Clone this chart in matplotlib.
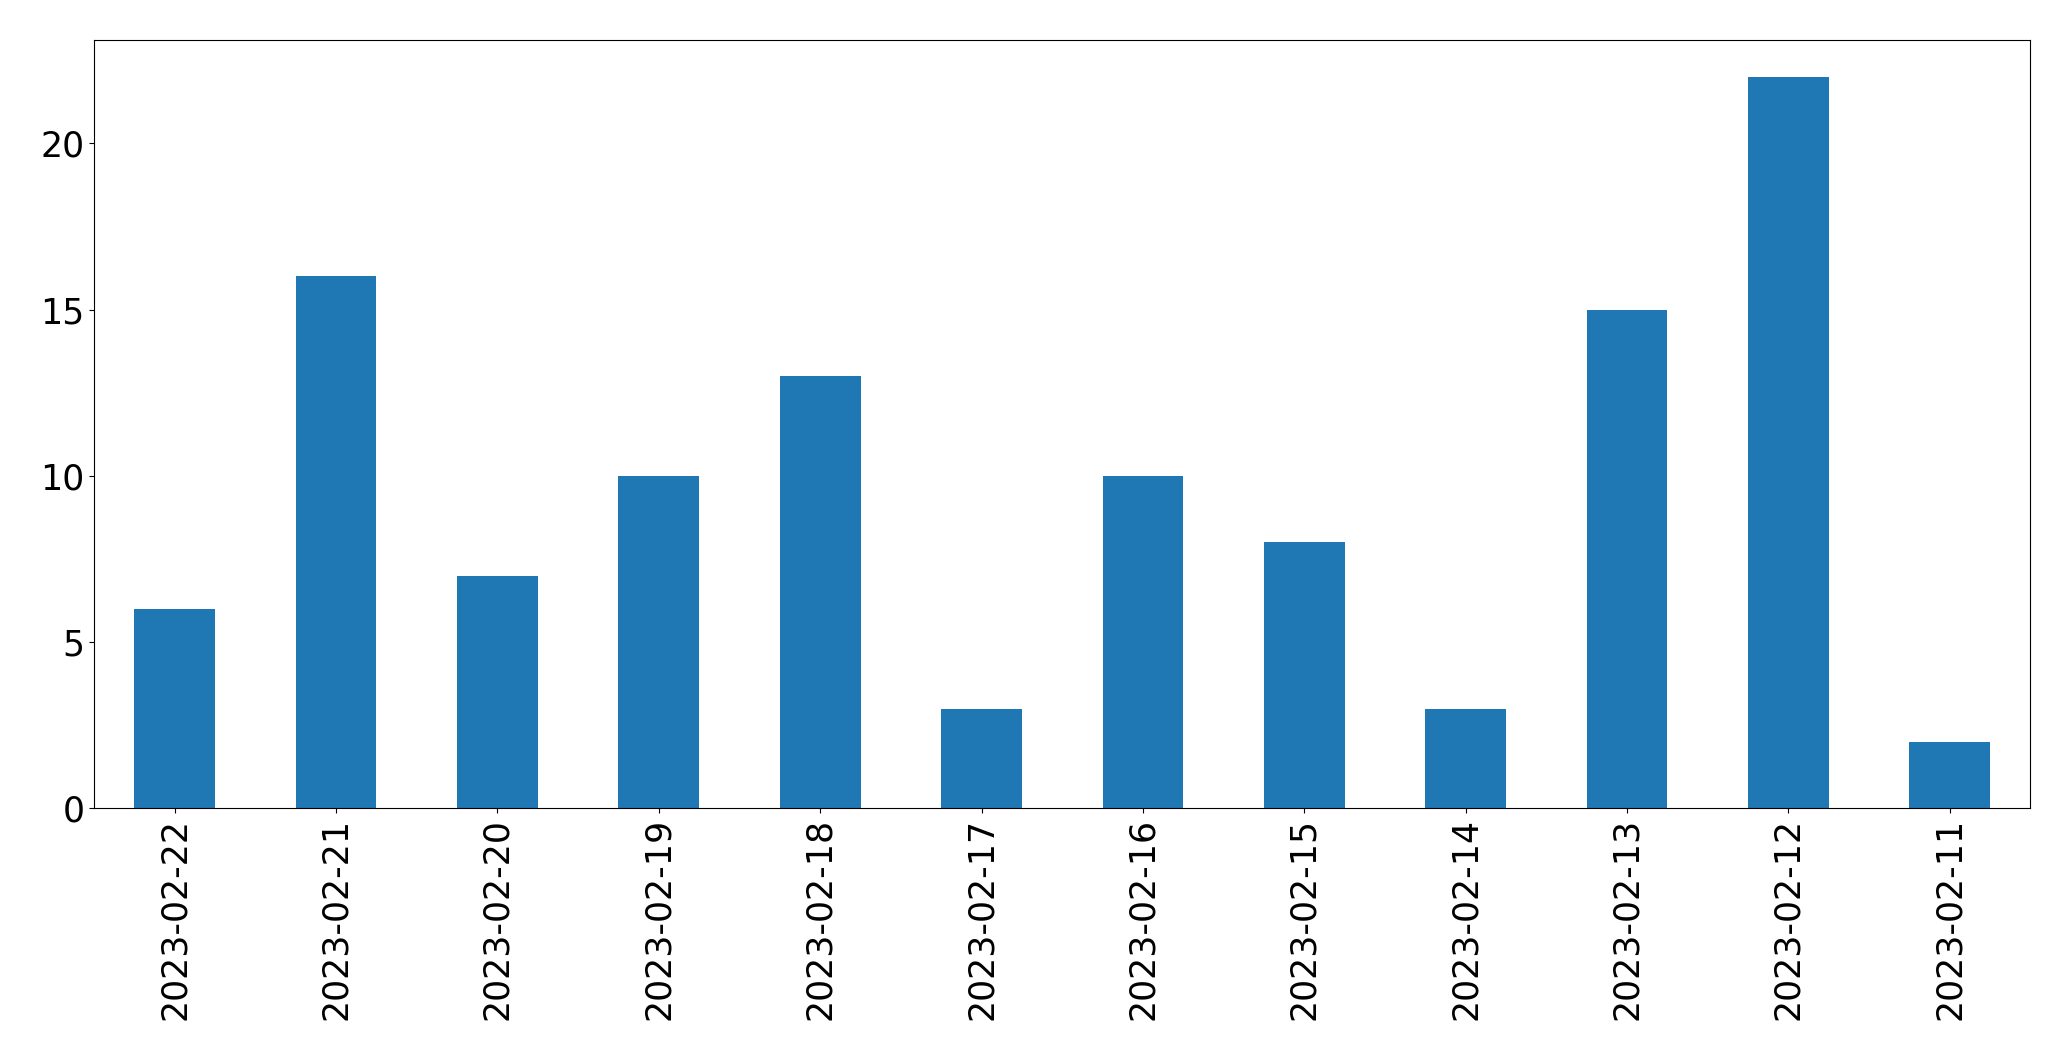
import matplotlib
matplotlib.use("Agg")
import matplotlib.pyplot as plt
import pandas as pd

dates = ["2023-02-22", "2023-02-21", "2023-02-20", "2023-02-19", "2023-02-18", "2023-02-17",
         "2023-02-16", "2023-02-15", "2023-02-14", "2023-02-13", "2023-02-12", "2023-02-11"]
counts = [6, 16, 7, 10, 13, 3, 10, 8, 3, 15, 22, 2]

fig = plt.figure(figsize=(20.71, 10.61), dpi=100)
ax = fig.add_axes([0.0454, 0.238, 0.9350, 0.724])
s = pd.Series(counts, index=dates)
s.plot(kind="bar", ax=ax, color="#1f77b4", width=0.5)
ax.tick_params(axis="both", labelsize=25)
ax.set_yticks([0, 5, 10, 15, 20])
fig.savefig("out.png", dpi=100)
